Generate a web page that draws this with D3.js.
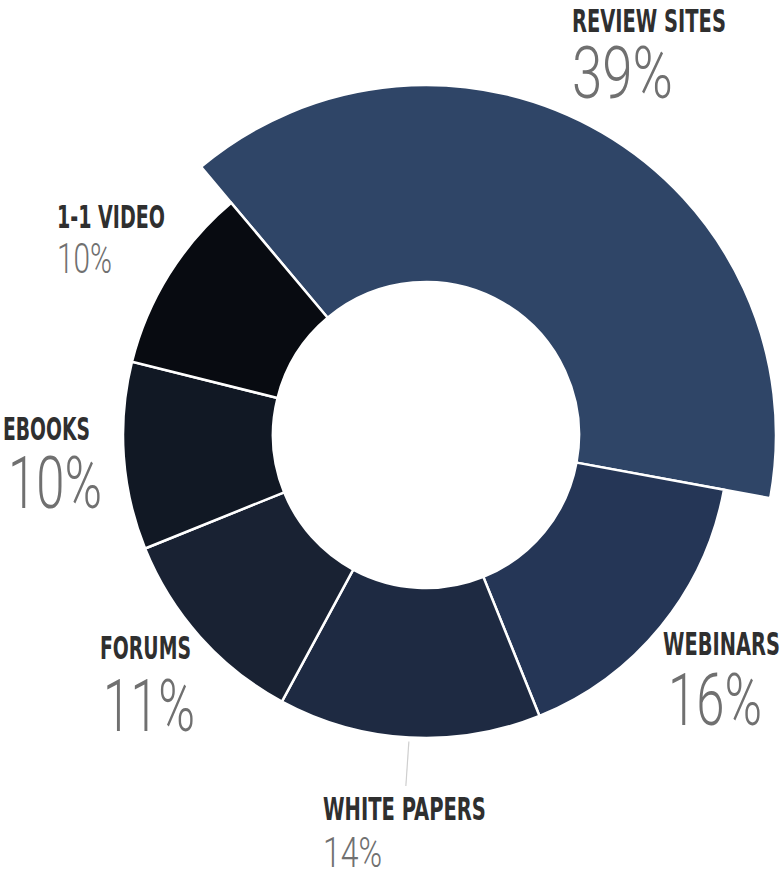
<!DOCTYPE html>
<html>
<head>
<meta charset="utf-8">
<script src="https://cdn.jsdelivr.net/npm/d3@7"></script>
<style>
  html, body { margin: 0; padding: 0; background: #ffffff; }
  svg { display: block; }
</style>
</head>
<body>
<svg id="chart" width="782" height="871"></svg>
<script>
// Share of content sources, clockwise from the top-left
const categories = ["REVIEW SITES", "WEBINARS", "WHITE PAPERS", "FORUMS", "EBOOKS", "1-1 VIDEO"];
const values = [39, 16, 14, 11, 10, 10];
const sliceColors = ["#2f4567", "#253656", "#1e2a42", "#192233", "#111824", "#080b11"];
const highlighted = "REVIEW SITES";

// Label placement: title left/baseline, title width, percent baseline, percent width, percent size
const labelLayout = {
  "REVIEW SITES": { x: 572, ty: 32, tw: 154, py: 98, pw: 101, big: true },
  "WEBINARS":     { x: 663, ty: 655, tw: 117, py: 725, pw: 94, big: true, px: 668 },
  "WHITE PAPERS": { x: 323, ty: 820, tw: 163, py: 867, pw: 59, big: false },
  "FORUMS":       { x: 100, ty: 659, tw: 91, py: 731, pw: 92, big: true, px: 103 },
  "EBOOKS":       { x: 3, ty: 440, tw: 87, py: 508, pw: 94, big: true, px: 8 },
  "1-1 VIDEO":    { x: 57, ty: 228, tw: 108, py: 273, pw: 55, big: false }
};

const svg = d3.select("#chart");
const cx = 426, cy = 435;
const innerR = 153, outerR = 303, popR = 350;

const pie = d3.pie()
  .sort(null)
  .value(d => d.value)
  .startAngle(-40 * Math.PI / 180)
  .endAngle(320 * Math.PI / 180);

const data = categories.map((c, i) => ({ name: c, value: values[i], color: sliceColors[i] }));
const arcs = pie(data);

const arc = d3.arc()
  .innerRadius(innerR)
  .outerRadius(d => d.data.name === highlighted ? popR : outerR);

const g = svg.append("g").attr("transform", `translate(${cx},${cy})`);

g.selectAll("path.slice")
  .data(arcs)
  .join("path")
  .attr("class", "slice")
  .attr("d", arc)
  .attr("fill", d => d.data.color)
  .attr("stroke", "#ffffff")
  .attr("stroke-width", 2.5)
  .attr("stroke-linejoin", "miter");

// Leader from the white papers slice down to its label
const wp = arcs.find(d => d.data.name === "WHITE PAPERS");
const wpMid = (wp.startAngle + wp.endAngle) / 2;
const leaderStart = [Math.sin(wpMid) * (outerR + 4), -Math.cos(wpMid) * (outerR + 4)];
g.append("line")
  .attr("x1", leaderStart[0]).attr("y1", leaderStart[1])
  .attr("x2", leaderStart[0] - 3).attr("y2", 786 - cy)
  .attr("stroke", "#cfcfcf")
  .attr("stroke-width", 1.2);

// Condensed text: draw at natural size, then squeeze horizontally to the target width
function fitText(parent, str, x, y, width, attrs) {
  const holder = parent.append("g");
  const t = holder.append("text").attr("x", 0).attr("y", 0).text(str);
  Object.entries(attrs).forEach(([k, v]) => t.attr(k, v));
  const natural = t.node().getComputedTextLength();
  const sx = width / natural;
  holder.attr("transform", `translate(${x},${y}) scale(${sx},1)`);
  return holder;
}

// Category titles and percentages
const labels = svg.append("g");
arcs.forEach(d => {
  const L = labelLayout[d.data.name];
  fitText(labels, d.data.name, L.x, L.ty, L.tw, {
    "font-family": "'Liberation Sans Narrow', 'DejaVu Sans Condensed', sans-serif",
    "font-weight": 700,
    "font-size": 32,
    "fill": "#2f2f2f"
  });
  fitText(labels, d.data.value + "%", L.px !== undefined ? L.px : L.x, L.py, L.pw, {
    "font-family": "Roboto, 'Liberation Sans Narrow', sans-serif",
    "font-weight": 300,
    "font-size": L.big ? 72 : 42,
    "fill": "#707070"
  });
});
</script>
</body>
</html>
